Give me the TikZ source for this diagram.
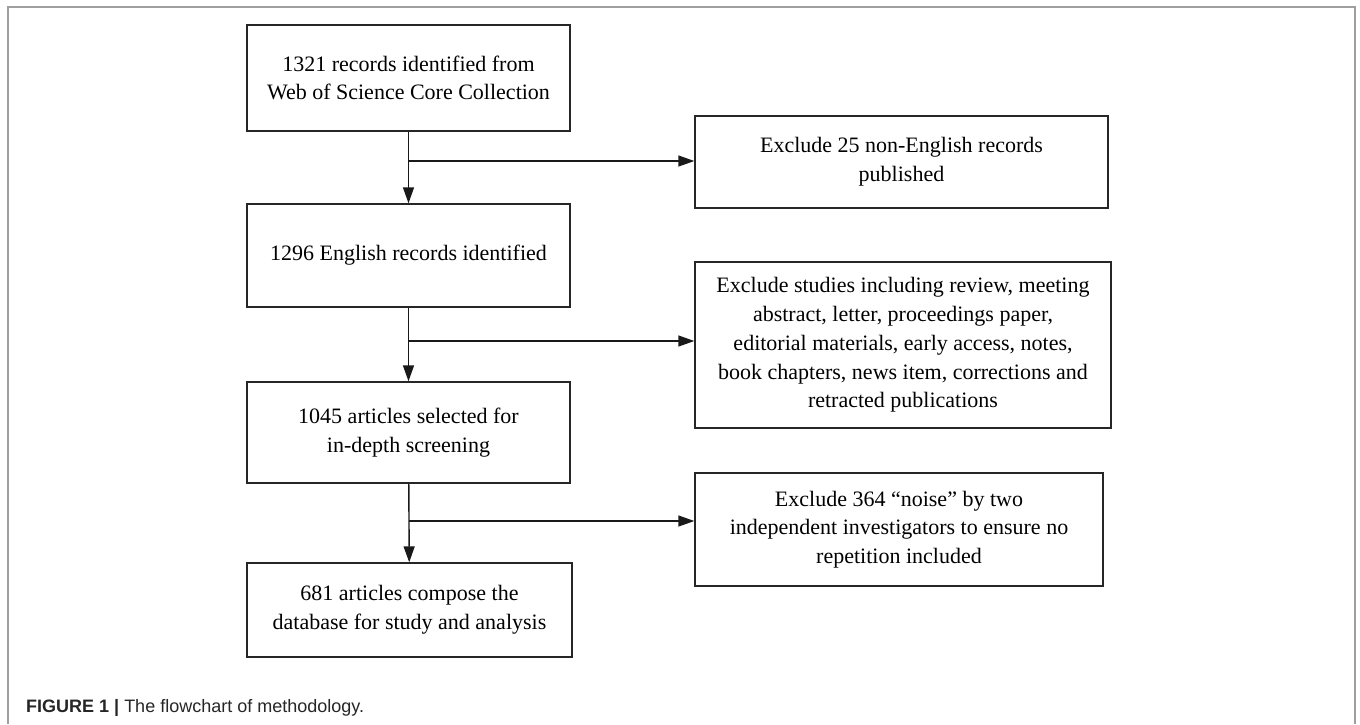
\documentclass[tikz,border=0pt]{standalone}
\usepackage{fontspec}
\setmainfont{Liberation Serif}
\newfontfamily\capfont{Liberation Sans}
\usetikzlibrary{arrows.meta}
\tikzset{
	box/.style={draw=black!85, line width=1.4pt, inner sep=0pt, align=center, font=\fontsize{22}{28.7}\selectfont},
	flow/.style={draw=black!90, line width=1.4pt, -{Triangle[length=16pt, width=11pt]}}
}
\begin{document}
\begin{tikzpicture}[x=1pt, y=-1pt]
	\useasboundingbox (0,0) rectangle (1360,724);
	\draw[gray!75, line width=1.6pt] (8,724) -- (8,7) -- (1355,7) -- (1355,724);
	
	\node[box, minimum width=323pt, minimum height=106pt] (rec) at (408.5,78) {1321 records identified from\\Web of Science Core Collection};
	\node[box, minimum width=323pt, minimum height=103pt] (eng) at (408.5,255.5) {1296 English records identified};
	\node[box, minimum width=323pt, minimum height=101pt] (sel) at (408.5,432.5) {1045 articles selected for\\in-depth screening};
	\node[box, minimum width=325pt, minimum height=94pt] (db) at (409.5,610) {681 articles compose the\\database for study and analysis};
	
	\node[box, minimum width=413pt, minimum height=92pt] (exlang) at (901.5,162) {Exclude 25 non-English records\\published};
	\node[box, minimum width=416pt, minimum height=166pt] (extype) at (903,345) {Exclude studies including review, meeting\\abstract, letter, proceedings paper,\\editorial materials, early access, notes,\\book chapters, news item, corrections and\\retracted publications};
	\node[box, minimum width=408pt, minimum height=113pt] (exnoise) at (899,529.5) {Exclude 364 ``noise'' by two\\independent investigators to ensure no\\repetition included};
	
	\coordinate (j1) at (408.5,161);
	\coordinate (j2) at (408.5,341);
	\coordinate (j3) at (408.5,521);
	
	\draw[flow] (rec) -- (eng);
	\draw[flow] (eng) -- (sel);
	\draw[flow] (sel) -- (db);
	\draw[flow] (j1) -- (j1 -| exlang.west);
	\draw[flow] (j2) -- (j2 -| extype.west);
	\draw[flow] (j3) -- (j3 -| exnoise.west);
	
	\node[anchor=base west, inner sep=0pt, text=black!85, font=\capfont\fontsize{18}{22}\selectfont] (cap) at (26,712) {{\bfseries FIGURE 1 |} The flowchart of methodology.};
\end{tikzpicture}
\end{document}
